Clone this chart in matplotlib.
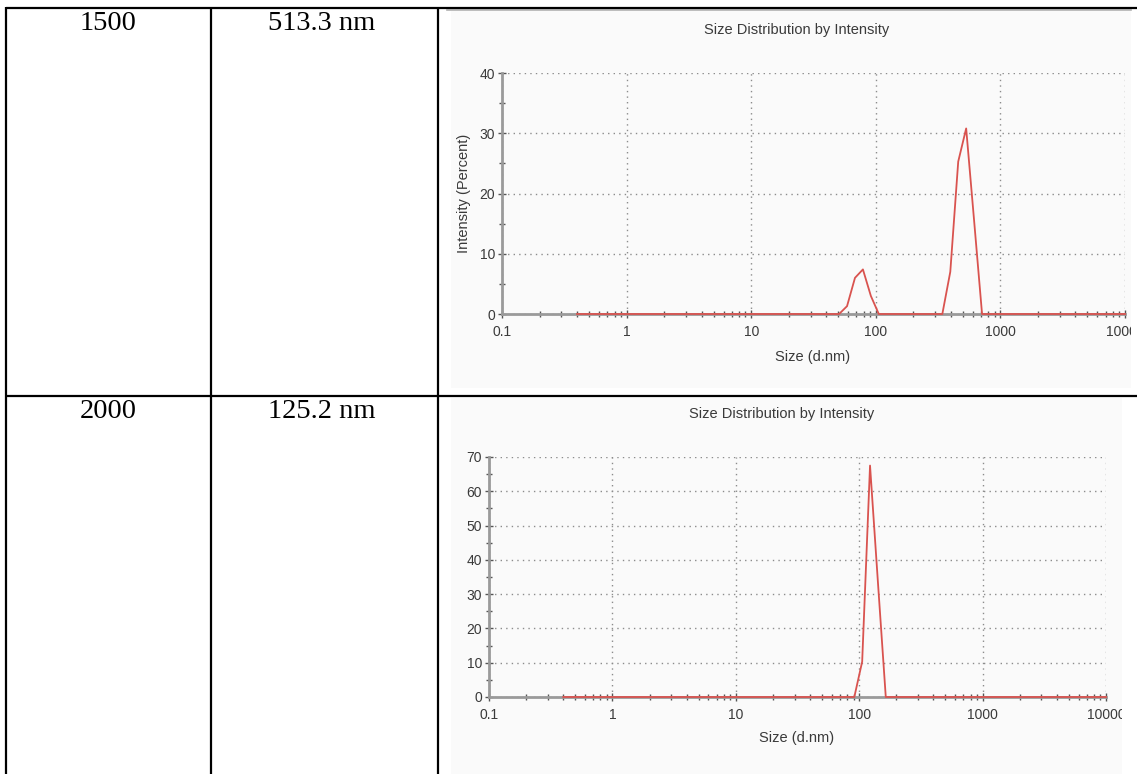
import matplotlib
matplotlib.use("Agg")
import matplotlib.pyplot as plt
from matplotlib.patches import Rectangle
from matplotlib.ticker import FixedLocator, NullFormatter

# ---------------- data ----------------
concentrations = ["1500", "2000"]
z_average = ["513.3 nm", "125.2 nm"]

chart_title = "Size Distribution by Intensity"
x_label = "Size (d.nm)"
y_label = "Intensity (Percent)"

x_ticks = [0.1, 1, 10, 100, 1000, 10000]
x_tick_labels = ["0.1", "1", "10", "100", "1000", "10000"]

# row 1 (1500)
sizes1 = [0.4, 50.75, 58.77, 68.06, 78.82, 91.28, 105.7,
          342.0, 396.1, 458.7, 531.2, 615.1, 712.4, 10000]
intensity1 = [0, 0, 1.3, 6.0, 7.4, 3.0, 0,
              0, 7.0, 25.3, 30.8, 15.5, 0, 0]
y_ticks1 = [0, 10, 20, 30, 40]
y_minor1 = [5, 15, 25, 35]

# row 2 (2000)
sizes2 = [0.4, 91.28, 105.7, 122.4, 141.8, 164.2, 10000]
intensity2 = [0, 0, 10.3, 67.5, 33.5, 0, 0]
y_ticks2 = [0, 10, 20, 30, 40, 50, 60, 70]
y_minor2 = [5, 15, 25, 35, 45, 55, 65]

# ---------------- figure ----------------
W, H = 1137, 774
fig = plt.figure(figsize=(W / 100, H / 100), dpi=100)
fig.patch.set_facecolor("white")

def frac(left, top, right, bottom):
    return [left / W, 1 - bottom / H, (right - left) / W, (bottom - top) / H]

bg = fig.add_axes([0, 0, 1, 1], zorder=0)
bg.set_xlim(0, W)
bg.set_ylim(H, 0)
bg.axis("off")
# chart image backgrounds
bg.add_patch(Rectangle((451, 11), 680, 377, facecolor="#fafafa", edgecolor="none"))
bg.add_patch(Rectangle((451, 398), 671, 376, facecolor="#fafafa", edgecolor="none"))
bg.plot([447, 1131], [10, 10], color="#b0b0b0", lw=1.2)

RED = "#d9534f"
AX_GRAY = "#9a9a9a"
TXT = "#3a3a3a"
FONT = "Liberation Sans"

minor_x = []
for dec in [0.1, 1, 10, 100, 1000]:
    for m in range(2, 10):
        minor_x.append(dec * m)

def make_chart(box, sizes, vals, yt, ym, ymax, title_pos, xlab_pos, show_ylabel):
    ax = fig.add_axes(frac(*box), zorder=2)
    ax.patch.set_alpha(0)
    ax.set_xscale("log")
    ax.set_xlim(0.1, 10000)
    ax.set_ylim(0, ymax)
    for s in ["top", "right"]:
        ax.spines[s].set_visible(False)
    for s in ["left", "bottom"]:
        ax.spines[s].set_color(AX_GRAY)
        ax.spines[s].set_linewidth(2)
    ax.xaxis.set_major_locator(FixedLocator(x_ticks))
    ax.set_xticklabels(x_tick_labels)
    ax.xaxis.set_minor_locator(FixedLocator(minor_x))
    ax.xaxis.set_minor_formatter(NullFormatter())
    ax.yaxis.set_major_locator(FixedLocator(yt))
    ax.yaxis.set_minor_locator(FixedLocator(ym))
    ax.tick_params(which="major", direction="inout", length=6, width=1,
                   color="#555555", labelcolor=TXT, labelsize=10)
    ax.tick_params(which="minor", direction="inout", length=4, width=1,
                   color="#555555")
    ax.tick_params(axis="x", which="major", pad=5)
    ax.tick_params(axis="y", which="major", pad=2)
    for lbl in ax.get_xticklabels() + ax.get_yticklabels():
        lbl.set_family(FONT)
    ax.grid(True, which="major", linestyle=(0, (1, 3)), color="#8c8c8c", lw=1)
    ax.plot(sizes, vals, color=RED, lw=1.3, clip_on=False, zorder=3)
    ax.text(title_pos[0], title_pos[1], chart_title, transform=ax.transAxes,
            ha="center", va="center", fontsize=10.5, color=TXT, family=FONT)
    ax.text(xlab_pos[0], xlab_pos[1], x_label, transform=ax.transAxes,
            ha="center", va="center", fontsize=10.5, color=TXT, family=FONT)
    if show_ylabel:
        ax.text(-0.061, 0.5, y_label, transform=ax.transAxes, rotation=90,
                ha="center", va="center", fontsize=10.5, color=TXT, family=FONT)
    return ax

make_chart((502, 73, 1125, 314), sizes1, intensity1, y_ticks1, y_minor1, 40,
           (0.473, 1.178), (0.498, -0.178), True)
make_chart((489, 457, 1106, 697), sizes2, intensity2, y_ticks2, y_minor2, 70,
           (0.475, 1.179), (0.499, -0.171), False)

top = fig.add_axes([0, 0, 1, 1], zorder=10)
top.patch.set_alpha(0)
top.set_xlim(0, W)
top.set_ylim(H, 0)
top.axis("off")
# cropped right edges of the chart images
top.add_patch(Rectangle((1131, 11), 10, 384, facecolor="white", edgecolor="none"))
top.add_patch(Rectangle((1122, 398), 20, 380, facecolor="white", edgecolor="none"))

# table lines
LW = 1.6
top.plot([6, 1137], [8, 8], color="black", lw=LW, solid_capstyle="butt")
top.plot([6, 1137], [396, 396], color="black", lw=LW, solid_capstyle="butt")
for xl in [6, 211, 438]:
    top.plot([xl, xl], [7, 774], color="black", lw=LW, solid_capstyle="butt")

row_y = [23, 412]
for i in range(2):
    top.text(108, row_y[i], concentrations[i], ha="center", va="center",
             fontsize=20.5, family="Liberation Serif", color="black")
    top.text(322, row_y[i], z_average[i], ha="center", va="center",
             fontsize=20.5, family="Liberation Serif", color="black")

fig.savefig("out.png", dpi=100, facecolor="white")
